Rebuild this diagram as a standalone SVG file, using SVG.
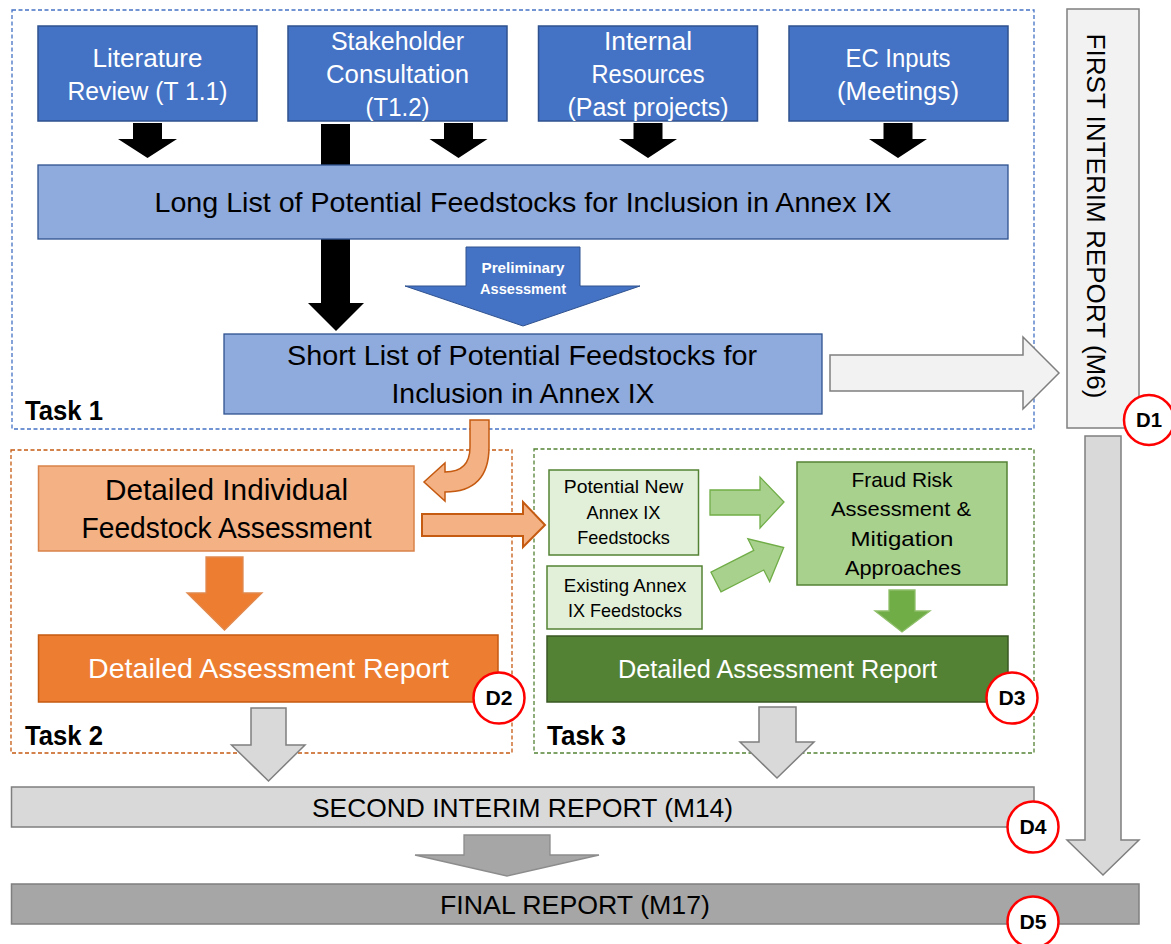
<svg xmlns="http://www.w3.org/2000/svg" width="1171" height="944" viewBox="0 0 1171 944">
  <style>
    text { font-family: "Liberation Sans", Arial, sans-serif; text-anchor: middle; }
    .frame { fill: none; stroke-width: 1.3; stroke-dasharray: 4 2.5; }
    .src { fill: #4472c4; stroke: #2f528f; stroke-width: 1.5; }
    .src-t { fill: #ffffff; font-size: 25px; }
    .list { fill: #8faadc; stroke: #2f528f; stroke-width: 1.3; }
    .list-t { fill: #000000; font-size: 28px; }
    .blk { fill: #000000; }
    .gray-arrow { fill: #d9d9d9; stroke: #7f7f7f; stroke-width: 1.5; }
    .task { fill: #000000; font-size: 27px; font-weight: bold; text-anchor: start; }
    .badge circle { fill: #ffffff; stroke: #ff0000; stroke-width: 2.5; }
    .badge text { fill: #000000; font-size: 20px; font-weight: bold; }
    .lg-t { fill: #000000; font-size: 19px; }
    .fr-t { fill: #000000; font-size: 21px; }
  </style>

  <!-- task frames -->
  <g id="task1-frame">
    <rect class="frame" x="12" y="10" width="1022" height="419" stroke="#4472c4"/>
    <text class="task" x="25" y="420" textLength="78" lengthAdjust="spacingAndGlyphs">Task 1</text>
  </g>
  <g id="task2-frame">
    <rect class="frame" x="11" y="450" width="501" height="303" stroke="#c55a11"/>
    <text class="task" x="25" y="745" textLength="78" lengthAdjust="spacingAndGlyphs">Task 2</text>
  </g>
  <g id="task3-frame">
    <rect class="frame" x="534" y="449" width="500" height="304" stroke="#548235"/>
    <text class="task" x="547" y="745" textLength="79" lengthAdjust="spacingAndGlyphs">Task 3</text>
  </g>

  <!-- block arrows -->
  <g id="connectors">
    <!-- inputs into the long list -->
    <polygon class="blk" points="133,123 162,123 162,139 177,139 147.5,158 118,139 133,139"/>
    <polygon class="blk" points="321,124 350,124 350,303 364,303 336,331 308,303 321,303"/>
    <polygon class="blk" points="444,123 473,123 473,139 487.5,139 458.5,158 429.5,139 444,139"/>
    <polygon class="blk" points="633.5,123 662.5,123 662.5,139 677,139 648,158 619,139 633.5,139"/>
    <polygon class="blk" points="883.5,123 912.5,123 912.5,139 927,139 898,158 869,139 883.5,139"/>

    <!-- preliminary assessment -->
    <g id="prelim-arrow">
      <polygon points="466,247 580,247 580,286 640,286 523,326 405,286 466,286" fill="#4472c4" stroke="#2f528f" stroke-width="1"/>
      <text x="523" y="273" fill="#ffffff" font-size="15" font-weight="bold" textLength="83" lengthAdjust="spacingAndGlyphs">Preliminary</text>
      <text x="523" y="294" fill="#ffffff" font-size="15" font-weight="bold" textLength="86" lengthAdjust="spacingAndGlyphs">Assessment</text>
    </g>

    <!-- short list to first interim report -->
    <polygon points="830,355 1023,355 1023,337 1059,373 1023,409 1023,391 830,391" fill="#f2f2f2" stroke="#7f7f7f" stroke-width="1.5"/>

    <!-- short list down into task 2 -->
    <path d="M470,420 L489,420 L489,447 Q489,492 445,492 L445,501 L424,482 L445,463 L445,472 Q470,472 470,447 Z" fill="#f4b183" stroke="#c55a11" stroke-width="1.5"/>

    <!-- task 2 to task 3 -->
    <polygon points="422,514 523,514 523,502 545,525 523,547 523,536 422,536" fill="#f4b183" stroke="#c55a11" stroke-width="2"/>

    <!-- task 2 internal -->
    <polygon points="206,557 243,557 243,593 262,593 224.5,630 187,593 206,593" fill="#ed7d31" stroke="#e08a50" stroke-width="1.3"/>

    <!-- task 3 internal -->
    <polygon points="710,490 760,490 760,477 784,502 760,528 760,515 710,515" fill="#a9d18e" stroke="#70ad47" stroke-width="1.3"/>
    <polygon points="0,-11 48,-11 48,-24 76,0 48,24 48,11 0,11" transform="translate(716,582) rotate(-27)" fill="#a9d18e" stroke="#70ad47" stroke-width="1.3"/>
    <polygon points="889,590 915,590 915,611 930,611 902,632 875,611 889,611" fill="#70ad47" stroke="#8fbf6a" stroke-width="1.3"/>

    <!-- into second interim report -->
    <polygon class="gray-arrow" points="251,708 286,708 286,745 305,745 268.5,781 231.5,745 251,745"/>
    <polygon class="gray-arrow" points="759,707 796,707 796,742 814,742 777,778 740,742 759,742"/>

    <!-- second interim to final -->
    <polygon points="464,835 550,835 550,855 599,855 507,876 415,855 464,855" fill="#a6a6a6" stroke="#8c8c8c" stroke-width="1.3"/>

    <!-- first interim to final -->
    <polygon class="gray-arrow" points="1085,436 1121,436 1121,840 1139,840 1103,875 1067,840 1085,840"/>
  </g>

  <!-- inputs -->
  <g id="literature-review">
    <rect class="src" x="38" y="26" width="219" height="95"/>
    <text class="src-t" x="147.5" y="67" textLength="110" lengthAdjust="spacingAndGlyphs">Literature</text>
    <text class="src-t" x="147.5" y="100" textLength="160" lengthAdjust="spacingAndGlyphs">Review (T 1.1)</text>
  </g>
  <g id="stakeholder-consultation">
    <rect class="src" x="288" y="26" width="219" height="95"/>
    <text class="src-t" x="397.5" y="50" textLength="133" lengthAdjust="spacingAndGlyphs">Stakeholder</text>
    <text class="src-t" x="397.5" y="83" textLength="143" lengthAdjust="spacingAndGlyphs">Consultation</text>
    <text class="src-t" x="397.5" y="116" textLength="64" lengthAdjust="spacingAndGlyphs">(T1.2)</text>
  </g>
  <g id="internal-resources">
    <rect class="src" x="538.5" y="26" width="219" height="95"/>
    <text class="src-t" x="648" y="50" textLength="88" lengthAdjust="spacingAndGlyphs">Internal</text>
    <text class="src-t" x="648" y="83" textLength="113" lengthAdjust="spacingAndGlyphs">Resources</text>
    <text class="src-t" x="648" y="116" textLength="161" lengthAdjust="spacingAndGlyphs">(Past projects)</text>
  </g>
  <g id="ec-inputs">
    <rect class="src" x="789" y="26" width="219" height="95"/>
    <text class="src-t" x="898" y="67" textLength="105" lengthAdjust="spacingAndGlyphs">EC Inputs</text>
    <text class="src-t" x="898" y="100" textLength="122" lengthAdjust="spacingAndGlyphs">(Meetings)</text>
  </g>

  <!-- feedstock lists -->
  <g id="long-list">
    <rect class="list" x="38" y="165" width="970" height="74"/>
    <text class="list-t" x="523" y="212" textLength="737" lengthAdjust="spacingAndGlyphs">Long List of Potential Feedstocks for Inclusion in Annex IX</text>
  </g>
  <g id="short-list">
    <rect class="list" x="224" y="334" width="598" height="80"/>
    <text class="list-t" x="522" y="365" textLength="470" lengthAdjust="spacingAndGlyphs">Short List of Potential Feedstocks for</text>
    <text class="list-t" x="523" y="403" textLength="263" lengthAdjust="spacingAndGlyphs">Inclusion in Annex IX</text>
  </g>

  <!-- first interim report -->
  <g id="first-interim-report">
    <rect x="1067" y="9" width="72" height="419" fill="#f2f2f2" stroke="#7f7f7f" stroke-width="1.5"/>
    <text transform="translate(1087,216) rotate(90)" fill="#000000" font-size="26" textLength="365" lengthAdjust="spacingAndGlyphs">FIRST INTERIM REPORT (M6)</text>
  </g>

  <!-- task 2 -->
  <g id="individual-assessment">
    <rect x="38.5" y="466" width="375.5" height="85" fill="#f4b183" stroke="#d9834a" stroke-width="1.5"/>
    <text x="226.5" y="500" fill="#000000" font-size="29" textLength="243" lengthAdjust="spacingAndGlyphs">Detailed Individual</text>
    <text x="226.5" y="538" fill="#000000" font-size="29" textLength="290" lengthAdjust="spacingAndGlyphs">Feedstock Assessment</text>
  </g>
  <g id="task2-report">
    <rect x="38.5" y="635" width="459.5" height="67" fill="#ed7d31" stroke="#c55a11" stroke-width="1.5"/>
    <text x="268.5" y="678" fill="#ffffff" font-size="28" textLength="361" lengthAdjust="spacingAndGlyphs">Detailed Assessment Report</text>
  </g>

  <!-- task 3 -->
  <g id="potential-new">
    <rect x="549" y="470" width="149.5" height="85" fill="#e2f0d9" stroke="#548235" stroke-width="1.5"/>
    <text class="lg-t" x="623.5" y="493" textLength="119.5" lengthAdjust="spacingAndGlyphs">Potential New</text>
    <text class="lg-t" x="623.5" y="519" textLength="74" lengthAdjust="spacingAndGlyphs">Annex IX</text>
    <text class="lg-t" x="623.5" y="544" textLength="92.5" lengthAdjust="spacingAndGlyphs">Feedstocks</text>
  </g>
  <g id="existing-annex">
    <rect x="547" y="566" width="155" height="63" fill="#e2f0d9" stroke="#548235" stroke-width="1.5"/>
    <text class="lg-t" x="625" y="592" textLength="122.5" lengthAdjust="spacingAndGlyphs">Existing Annex</text>
    <text class="lg-t" x="625" y="617" textLength="114" lengthAdjust="spacingAndGlyphs">IX Feedstocks</text>
  </g>
  <g id="fraud-risk">
    <rect x="797" y="462" width="210" height="123" fill="#a9d18e" stroke="#548235" stroke-width="1.5"/>
    <text class="fr-t" x="902" y="487" textLength="101" lengthAdjust="spacingAndGlyphs">Fraud Risk</text>
    <text class="fr-t" x="901" y="516" textLength="140" lengthAdjust="spacingAndGlyphs">Assessment &amp;</text>
    <text class="fr-t" x="902" y="546" textLength="103" lengthAdjust="spacingAndGlyphs">Mitigation</text>
    <text class="fr-t" x="903" y="575" textLength="116" lengthAdjust="spacingAndGlyphs">Approaches</text>
  </g>
  <g id="task3-report">
    <rect x="547" y="636" width="461" height="66" fill="#548235" stroke="#385723" stroke-width="1.5"/>
    <text x="777.5" y="678" fill="#ffffff" font-size="25" textLength="319" lengthAdjust="spacingAndGlyphs">Detailed Assessment Report</text>
  </g>

  <!-- closing reports -->
  <g id="second-interim-report">
    <rect x="11.5" y="787" width="1022.5" height="40" fill="#d9d9d9" stroke="#7f7f7f" stroke-width="1.5"/>
    <text x="522.5" y="817" fill="#000000" font-size="26" textLength="421" lengthAdjust="spacingAndGlyphs">SECOND INTERIM REPORT (M14)</text>
  </g>
  <g id="final-report">
    <rect x="11.5" y="884" width="1127.5" height="40" fill="#a6a6a6" stroke="#7f7f7f" stroke-width="1.5"/>
    <text x="575" y="914" fill="#000000" font-size="26" textLength="270" lengthAdjust="spacingAndGlyphs">FINAL REPORT (M17)</text>
  </g>

  <!-- deliverable badges -->
  <g id="d1" class="badge">
    <circle cx="1149" cy="420" r="25"/>
    <text x="1149" y="427" textLength="26" lengthAdjust="spacingAndGlyphs">D1</text>
  </g>
  <g id="d2" class="badge">
    <circle cx="499" cy="698" r="25.5"/>
    <text x="499" y="705" textLength="27" lengthAdjust="spacingAndGlyphs">D2</text>
  </g>
  <g id="d3" class="badge">
    <circle cx="1012" cy="698" r="25.5"/>
    <text x="1012" y="705" textLength="27" lengthAdjust="spacingAndGlyphs">D3</text>
  </g>
  <g id="d4" class="badge">
    <circle cx="1033" cy="827" r="25.5"/>
    <text x="1033" y="834" textLength="27" lengthAdjust="spacingAndGlyphs">D4</text>
  </g>
  <g id="d5" class="badge">
    <circle cx="1033" cy="922" r="25.5"/>
    <text x="1033" y="929" textLength="27" lengthAdjust="spacingAndGlyphs">D5</text>
  </g>
</svg>
